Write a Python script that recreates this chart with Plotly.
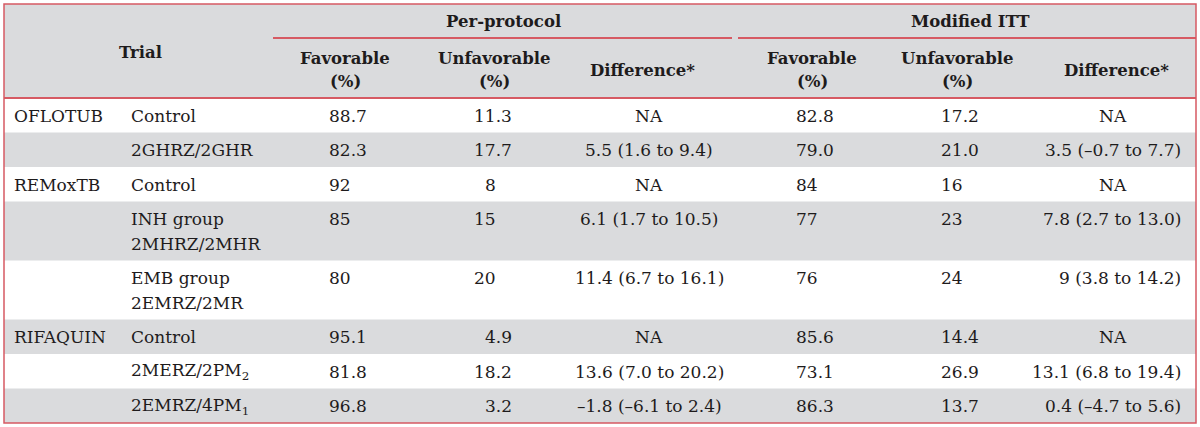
import plotly.graph_objects as go

# ---------------- data ----------------
trial_header = "Trial"
group_headers = ["Per-protocol", "Modified ITT"]
sub_headers = ["Favorable<br>(%)", "Unfavorable<br>(%)", "Difference*"]

trial_names = ["OFLOTUB", "", "REMoxTB", "", "", "RIFAQUIN", "", ""]
regimens = ["Control", "2GHRZ/2GHR", "Control", "INH group<br>2MHRZ/2MHR",
            "EMB group<br>2EMRZ/2MR", "Control", "2MERZ/2PM<sub>2</sub>",
            "2EMRZ/4PM<sub>1</sub>"]
pp_favorable = ["88.7", "82.3", "92", "85", "80", "95.1", "81.8", "96.8"]
pp_unfavorable = ["11.3", "17.7", "8", "15", "20", "4.9", "18.2", "3.2"]
pp_difference = ["NA", "5.5 (1.6 to 9.4)", "NA", "6.1 (1.7 to 10.5)",
                 "11.4 (6.7 to 16.1)", "NA", "13.6 (7.0 to 20.2)",
                 "\u20131.8 (\u20136.1 to 2.4)"]
mitt_favorable = ["82.8", "79.0", "84", "77", "76", "85.6", "73.1", "86.3"]
mitt_unfavorable = ["17.2", "21.0", "16", "23", "24", "14.4", "26.9", "13.7"]
mitt_difference = ["NA", "3.5 (\u20130.7 to 7.7)", "NA", "7.8 (2.7 to 13.0)",
                   "9 (3.8 to 14.2)", "NA", "13.1 (6.8 to 19.4)",
                   "0.4 (\u20134.7 to 5.6)"]

# ---------------- layout / style ----------------
W, H = 1200, 427
LEFT, RIGHT, TOP, BOTTOM = 4, 1196, 4, 423
HEADER_BOTTOM = 98
GROUP_LINE_Y = 38
ROW_H = 34.5
LINE_STEP = 24.5
FIRST_LINE = 17.5
FONT = "DejaVu Serif"
BODY_SIZE = 17
HEAD_SIZE = 16.5
DIGIT_W = 0.636 * BODY_SIZE
TEXT = "#1e1b1c"
RED = "#d65a63"
GRAY = "#dadbdd"

group_spans = [(273, 732, 503), (738, RIGHT, 970)]
sub_centers = [[345, 494, 642], [812, 957, 1116]]
sub_line_y = [58, 81]
sub_single_y = 70
trial_header_pos = (140, 52)
group_label_y = 21

# column specs: (values, mode, x, x for "NA")
columns = [
    (trial_names, "left", 13, None),
    (regimens, "left", 130, None),
    (pp_favorable, "decimal", 328, None),
    (pp_unfavorable, "decimal", 473, None),
    (pp_difference, "center", 649, None),
    (mitt_favorable, "decimal", 795, None),
    (mitt_unfavorable, "decimal", 940, None),
    (mitt_difference, "right", 1182, 1113),
]

fig = go.Figure()
fig.add_trace(go.Scatter(x=[0, W], y=[0, H], mode="markers",
                         marker=dict(opacity=0), hoverinfo="skip",
                         showlegend=False))


def txt(x, y, s, anchor="left", size=BODY_SIZE):
    fig.add_annotation(x=x, y=y, xref="x", yref="y", text=s, showarrow=False,
                       xanchor=anchor, yanchor="middle", borderpad=0,
                       font=dict(family=FONT, size=size, color=TEXT))


# header background
fig.add_shape(type="rect", x0=LEFT, x1=RIGHT, y0=TOP, y1=HEADER_BOTTOM,
              xref="x", yref="y", fillcolor=GRAY, line_width=0, layer="below")

# body rows
y_top = HEADER_BOTTOM
for i in range(len(regimens)):
    n_lines = max(str(col[0][i]).count("<br>") + 1 for col in columns)
    h = ROW_H + (n_lines - 1) * LINE_STEP
    if i % 2 == 1:
        fig.add_shape(type="rect", x0=LEFT, x1=RIGHT, y0=y_top, y1=y_top + h,
                      xref="x", yref="y", fillcolor=GRAY, line_width=0,
                      layer="below")
    for values, mode, x, na_x in columns:
        val = values[i]
        if not val:
            continue
        for k, line in enumerate(val.split("<br>")):
            y = y_top + FIRST_LINE + k * LINE_STEP
            if mode == "decimal":
                # align on the decimal point: 2-digit integer slot
                n_int = len(line.split(".")[0])
                txt(x + (2 - n_int) * DIGIT_W, y, line, "left")
            elif line == "NA" and na_x is not None:
                txt(na_x, y, line, "center")
            else:
                txt(x, y, line, mode)
    y_top += h

# header text
txt(trial_header_pos[0], trial_header_pos[1], "<b>%s</b>" % trial_header,
    "center", HEAD_SIZE)
for g, (x0, x1, xc) in enumerate(group_spans):
    txt(xc, group_label_y, "<b>%s</b>" % group_headers[g], "center", HEAD_SIZE)
    fig.add_shape(type="line", x0=x0, x1=x1, y0=GROUP_LINE_Y, y1=GROUP_LINE_Y,
                  xref="x", yref="y", line=dict(color=RED, width=2))
    for j, sh in enumerate(sub_headers):
        parts = sh.split("<br>")
        if len(parts) == 1:
            txt(sub_centers[g][j], sub_single_y, "<b>%s</b>" % parts[0],
                "center", HEAD_SIZE)
        else:
            for k, p in enumerate(parts):
                txt(sub_centers[g][j], sub_line_y[k], "<b>%s</b>" % p,
                    "center", HEAD_SIZE)

# header bottom rule and outer border
fig.add_shape(type="line", x0=LEFT, x1=RIGHT, y0=HEADER_BOTTOM,
              y1=HEADER_BOTTOM, xref="x", yref="y",
              line=dict(color=RED, width=2))
fig.add_shape(type="rect", x0=LEFT, x1=RIGHT, y0=TOP, y1=BOTTOM,
              xref="x", yref="y", line=dict(color=RED, width=1.5),
              fillcolor="rgba(0,0,0,0)")

fig.update_xaxes(range=[0, W], visible=False, fixedrange=True)
fig.update_yaxes(range=[H, 0], visible=False, fixedrange=True)
fig.update_layout(width=W, height=H, margin=dict(l=0, r=0, t=0, b=0),
                  paper_bgcolor="white", plot_bgcolor="white",
                  showlegend=False)

fig.write_html("out.html", config={"displayModeBar": False},
               post_script="document.body.style.margin='0';"
                           "document.body.style.overflow='hidden';")
